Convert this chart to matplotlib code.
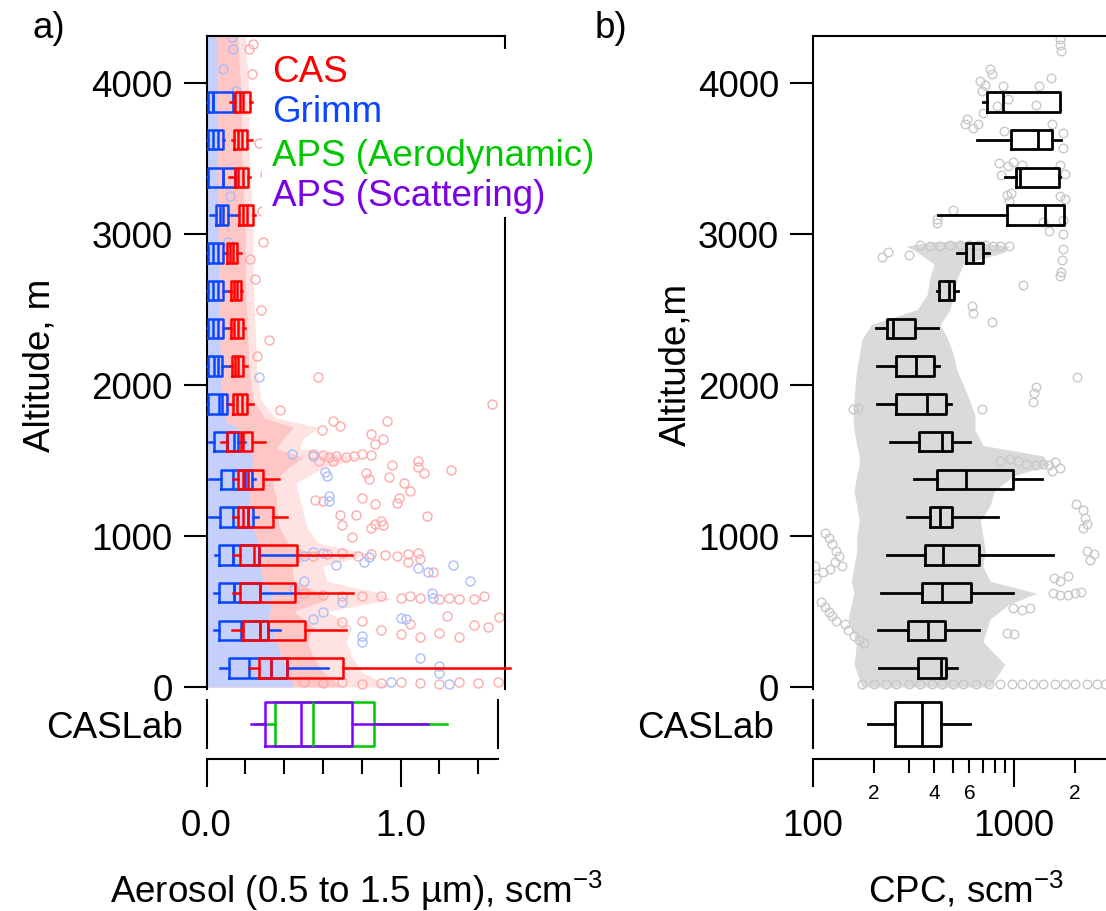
import matplotlib
matplotlib.use('Agg')
import matplotlib.pyplot as plt
from matplotlib.patches import Rectangle

plt.rcParams['font.family'] = ['Liberation Sans', 'DejaVu Sans']
plt.rcParams['mathtext.fontset'] = 'custom'
plt.rcParams['mathtext.rm'] = 'Liberation Sans'
plt.rcParams['mathtext.default'] = 'regular'

W, H = 1106, 912
FS = 26.5

# ---------------------------------------------------------------- data
alt_bins = [125, 375, 625, 875, 1125, 1375, 1625, 1875,
            2125, 2375, 2625, 2875, 3125, 3375, 3625, 3875]

# CAS (red) box stats, scm-3, per altitude bin
cas_wl   = [.221, .130, .138, .138, .135, .135, .073, .118, .121, .118, .118, .104, .164, .118, .130, .121]
cas_q1   = [.271, .190, .173, .173, .164, .164, .107, .138, .130, .125, .125, .104, .169, .147, .143, .147]
cas_med  = [.331, .276, .276, .246, .190, .190, .176, .159, .147, .143, .143, .121, .190, .164, .164, .173]
cas_mean = [.416, .319, .276, .270, .215, .215, .190, .181, .164, .164, .159, .138, .207, .190, .181, .190]
cas_q3   = [.702, .508, .456, .465, .341, .290, .236, .210, .187, .190, .176, .159, .238, .215, .207, .224]
cas_wh   = [1.565, .717, .757, .748, .416, .375, .302, .238, .207, .198, .181, .176, .250, .224, .236, .236]

# Grimm (blue)
grimm_wl   = [.070, .039, .039, .044, .014, .014, .014, .005, .005, .005, .005, .005, .018, .005, .005, .005]
grimm_q1   = [.118, .064, .064, .064, .070, .073, .039, .009, .009, .009, .009, .009, .047, .009, .009, .009]
grimm_med  = [.221, .176, .143, .138, .135, .135, .104, .064, .039, .035, .035, .035, .070, .083, .035, .035]
grimm_mean = [.331, .276, .143, .138, .215, .200, .143, .080, .061, .061, .061, .061, .087, .083, .061, .035]
grimm_q3   = [.416, .319, .276, .270, .238, .233, .164, .104, .078, .087, .087, .087, .112, .147, .087, .138]
grimm_wh   = [.625, .379, .456, .465, .267, .250, .196, .118, .121, .118, .118, .104, .164, .147, .090, .138]

# CASLab: APS aerodynamic (green) and APS scattering (purple)
aps_aero = dict(whislo=.250, q1=.355, med=.551, q3=.863, whishi=1.238)
aps_scat = dict(whislo=.229, q1=.302, med=.487, q3=.752, whishi=1.140)

# CPC box stats, scm-3
cpc_wl  = [213, 210, 218, 234, 294, 319, 242, 207, 209, 206, 412, 522, 419, 905, 652, 698]
cpc_q1  = [334, 296, 350, 361, 380, 412, 337, 258, 259, 234, 423, 575, 927, 1023, 966, 733]
cpc_med = [433, 375, 440, 442, 428, 575, 440, 370, 324, 249, 475, 628, 1426, 1071, 1321, 885]
cpc_q3  = [457, 454, 611, 672, 492, 993, 492, 457, 400, 322, 503, 698, 1774, 1675, 1541, 1694]
cpc_wh  = [522, 672, 986, 1571, 836, 1385, 604, 484, 425, 421, 529, 755, 1774, 1694, 1714, 1700]
cpc_lab = dict(whislo=188, q1=256, med=349, q3=433, whishi=604)

# raw-data clouds: dense core edge and sparse outer edge per altitude
cas_env_alt = [0, 100, 200, 300, 400, 500, 580, 620, 700, 800, 880, 950, 1050, 1150, 1250,
               1350, 1450, 1520, 1580, 1650, 1720, 1780, 1900, 2100, 2400, 2700, 3000, 3300,
               3600, 3900, 4311]
cas_env_x = [.70, .60, .55, .52, .55, .45, .62, .60, .45, .44, .55, .42, .38, .36, .36,
             .34, .42, .50, .36, .40, .45, .30, .24, .22, .21, .20, .20, .19,
             .18, .18, .16]
cas_mid_x = [.95, .80, .75, .72, .75, .62, .95, .90, .62, .60, .85, .58, .52, .50, .48,
             .46, .60, .80, .48, .50, .58, .36, .28, .26, .25, .24, .24, .23,
             .22, .22, .20]
grimm_env_alt = [0, 150, 300, 450, 600, 750, 900, 1050, 1200, 1350, 1500, 1600, 1700, 1760,
                 2000, 2500, 3000, 3500, 4311]
grimm_env_x = [.45, .40, .36, .32, .34, .28, .28, .24, .22, .22, .24, .22, .18, .10,
               .075, .065, .06, .055, .05]

cpc_env_alt = [0, 150, 300, 450, 550, 620, 700, 800, 900, 1000, 1100, 1200, 1300, 1400, 1470,
               1530, 1600, 1700, 1800, 1900, 2000, 2100, 2200, 2300, 2400, 2500, 2600, 2700,
               2800, 2880, 2920, 2950]
cpc_env_lo = [175, 160, 165, 150, 155, 160, 155, 160, 165, 165, 170, 165, 160, 165, 170,
              170, 165, 160, 158, 160, 162, 165, 170, 175, 195, 330, 370, 380,
              400, 330, 290, 400]
cpc_env_hi = [760, 900, 700, 760, 950, 1300, 760, 700, 720, 700, 680, 760, 800, 1000, 1500,
              1400, 700, 640, 640, 600, 560, 520, 500, 470, 430, 480, 500, 520,
              560, 900, 950, 600]

# sparse points outside the dense clouds (value, altitude)
cas_pts_x = [1.47, .575, .379, .929, .65, .69, .594, .85, .87, .91,
             .55, .60, .63, .67, .72, .76, .80, .85, .58, .65,
             .955, 1.09, 1.09, 1.12, 1.26, .82, .84, .94, 1.02, 1.05, .80, .87, .99, .98,
             1.135, .77, .90, .91, .85, .87, .56, .60, .69, .70, .75,
             .55, .62, .70, .78, .85, .92, .98, 1.04, 1.09, 1.04, 1.10, 1.17,
             .50, .60, .70, .80, .90, 1.00, 1.05, 1.10, 1.20, 1.25, 1.30, 1.38, 1.43,
             1.24, 1.51, 1.38, 1.45, .70, .80, .90, 1.00, 1.05, 1.10, 1.20, 1.30,
             .40, .50, .60, .70, .80, .90, 1.00, 1.10, 1.20, 1.30, 1.40, 1.50,
             .22, .24, .235, .285, .29, .224, .26, .27, .30, .25, .28, .32]
cas_pts_alt = [1874, 2050, 1835, 1764, 1760, 1730, 1702, 1675, 1610, 1640,
               1540, 1535, 1525, 1530, 1520, 1530, 1540, 1535, 1500, 1495,
               1470, 1500, 1460, 1420, 1440, 1420, 1380, 1390, 1350, 1300, 1250, 1210, 1250, 1220,
               1134, 1140, 1100, 1075, 1050, 1080, 1240, 1230, 1140, 1070, 995,
               870, 880, 885, 870, 880, 875, 870, 880, 890, 830, 850, 760,
               620, 610, 600, 605, 600, 590, 600, 590, 585, 590, 580, 585, 600,
               470, 465, 410, 400, 430, 440, 380, 350, 420, 330, 360, 330,
               40, 30, 25, 30, 20, 25, 30, 25, 20, 30, 25, 35,
               4225, 4258, 4060, 3152, 2947, 2834, 2192, 3600, 3400, 2700, 2500, 2300]

grimm_pts_x = [.272, 1.27, 1.36, 1.09, 1.14, 1.17, 1.16, 1.00, 1.03, 1.10, 1.20, 1.20, .80, .80,
               .63, .63, .61, .62, .44, .55, 1.25, .95, .50, .55, .60, .67, .81, .84,
               .45, .50, .55, .60, .70, .085, .13, .138, .15, .12, .11]
grimm_pts_alt = [2050, 810, 700, 790, 760, 590, 620, 460, 450, 190, 140, 90, 340, 300,
                 1265, 1230, 1425, 1395, 1540, 1530, 20, 30, 870, 895, 890, 810, 830, 860,
                 650, 700, 450, 500, 560, 4093, 4305, 4225, 3950, 3250, 2950]

cpc_pts_x = [1690, 1700, 1710, 760, 780, 680, 720, 690, 885, 1330, 1530, 1290, 935, 822,
             585, 570, 625, 665, 700, 1550, 1750, 1750, 893, 838, 935, 990, 1090, 860,
             1700, 1790, 1700, 1790, 920, 970, 940, 500, 415, 415,
             1750, 1760, 1760, 1740, 1720, 1690, 1390, 1500, 1110, 780, 625, 620,
             220, 235, 300, 340, 380, 430, 480, 540, 600, 660, 720, 790, 850, 940,
             2060, 1280, 1260, 1240, 690, 158, 167,
             850, 950, 1050, 1150, 1280, 1400, 1500, 1600, 1700, 1550,
             2030, 2200, 2250, 2300, 2200, 2300, 2500, 2400,
             1570, 1700, 1850, 2000, 2150, 1580, 1700, 1850, 990, 1100, 1200, 920, 1000,
             175, 200, 230, 260, 300, 340, 390, 440, 500, 560, 650, 750, 850, 980,
             1100, 1250, 1400, 1600, 1800, 2000, 2300, 2600, 2850,
             115, 120, 125, 130, 135, 128, 140, 122, 112, 102, 104,
             110, 115, 120, 125, 130, 145, 150, 160, 170, 180]
cpc_pts_alt = [4290, 4250, 4210, 4090, 4060, 4010, 3990, 3945, 3980, 3980, 4030, 3855, 3895, 3850,
               3760, 3730, 3700, 3730, 3800, 3730, 3670, 3570, 3680, 3470, 3450, 3480, 3460, 3390,
               3460, 3400, 3250, 3230, 3260, 3270, 3220, 3160, 3100, 3070,
               3090, 3000, 2900, 2830, 2750, 2720, 3080, 3020, 2660, 2420, 2480, 2520,
               2850, 2880, 2860, 2930, 2920, 2920, 2930, 2925, 2930, 2930, 2925, 2920, 2920, 2920,
               2050, 1990, 1950, 1890, 1840, 1840, 1845,
               1500, 1510, 1500, 1480, 1470, 1480, 1470, 1490, 1450, 1430,
               1210, 1170, 1120, 1080, 1050, 900, 880, 840,
               620, 610, 610, 620, 630, 720, 700, 735, 520, 510, 520, 360, 350,
               20, 20, 20, 20, 20, 20, 20, 20, 20, 20, 20, 20, 20, 20,
               20, 20, 20, 20, 20, 20, 20, 20, 20,
               1020, 990, 950, 900, 870, 830, 800, 780, 760, 800, 720,
               560, 530, 500, 470, 440, 420, 380, 340, 310, 290]

y_ticks = [0, 1000, 2000, 3000, 4000]


# ---------------------------------------------------------------- helpers
def add_ax(fig, l, t, r, b):
    return fig.add_axes([l / W, 1 - b / H, (r - l) / W, (b - t) / H])


def make_stats(wl, q1, med, q3, wh, mean=None):
    out = []
    for i in range(len(wl)):
        d = dict(whislo=wl[i], q1=q1[i], med=med[i], q3=q3[i], whishi=wh[i], fliers=[])
        if mean is not None:
            d['mean'] = mean[i]
        out.append(d)
    return out


def draw_boxes(ax, stats, pos, width, color, lw, means=False):
    art = ax.bxp(stats, positions=pos, widths=width, orientation='horizontal',
                 showmeans=means, meanline=True, showcaps=False, showfliers=False,
                 manage_ticks=False,
                 boxprops=dict(color=color, linewidth=lw),
                 whiskerprops=dict(color=color, linewidth=lw),
                 medianprops=dict(color=color, linewidth=lw),
                 meanprops=dict(color=color, linewidth=lw, linestyle='-'))
    for key in art:
        for a in art[key]:
            a.set_clip_on(False)
            a.set_zorder(4)
    return art


def px_to_fig(x, y):
    return x / W, 1 - y / H


fig = plt.figure(figsize=(W / 100, H / 100), dpi=100)

# ================================================================ panel a
ax1 = add_ax(fig, 206.5, 37, 505, 690)
ax1.set_xlim(0, (505 - 206.5) / 194.0)
ax1.set_ylim(-(690 - 688) / 0.151, (688 - 37) / 0.151)

ax1.fill_betweenx(cas_env_alt, 0, cas_mid_x, color='#ffe3e3', lw=0, zorder=1)
ax1.fill_betweenx(cas_env_alt, 0, cas_env_x, color='#ffc6c6', lw=0, zorder=1.1)
ax1.plot(cas_pts_x, cas_pts_alt, 'o', mfc='none', mec='#ffaaaa', ms=6.5, mew=1.0, zorder=1.5)
ax1.fill_betweenx(grimm_env_alt, 0, grimm_env_x, color='#c4d0fb', lw=0, zorder=2)
ax1.plot(grimm_pts_x, grimm_pts_alt, 'o', mfc='none', mec='#a9bdfa', ms=6.5, mew=1.0, zorder=2.1)

draw_boxes(ax1, make_stats(grimm_wl, grimm_q1, grimm_med, grimm_q3, grimm_wh, grimm_mean),
           alt_bins, 130, '#0a45ff', 1.8, means=True)
draw_boxes(ax1, make_stats(cas_wl, cas_q1, cas_med, cas_q3, cas_wh, cas_mean),
           alt_bins, 130, '#ff0000', 1.8, means=True)

for s in ['left', 'top', 'right']:
    ax1.spines[s].set_linewidth(1.5)
ax1.spines['bottom'].set_visible(False)
ax1.set_xticks([])
ax1.set_yticks(y_ticks)
ax1.tick_params(axis='y', direction='out', length=16.5, width=1.5, pad=8, labelsize=FS)

# CASLab strip a
ax2 = add_ax(fig, 206.5, 701, 498, 749)
ax2.set_xlim(0, (498 - 206.5) / 194.0)
ax2.set_ylim(0, 1)
ax2.bxp([dict(aps_aero, fliers=[])], positions=[0.5], widths=0.9, orientation='horizontal',
        showcaps=False, showfliers=False, manage_ticks=False,
        boxprops=dict(color='#00c800', linewidth=1.8),
        whiskerprops=dict(color='#00c800', linewidth=1.8),
        medianprops=dict(color='#00c800', linewidth=1.8))
ax2.bxp([dict(aps_scat, fliers=[])], positions=[0.5], widths=0.9, orientation='horizontal',
        showcaps=False, showfliers=False, manage_ticks=False,
        boxprops=dict(color='#8000ff', linewidth=1.8),
        whiskerprops=dict(color='#8000ff', linewidth=1.8),
        medianprops=dict(color='#8000ff', linewidth=1.8))
ax2.spines['top'].set_visible(False)
for s in ['left', 'right', 'bottom']:
    ax2.spines[s].set_linewidth(1.5)
ax2.spines['bottom'].set_position(('outward', 8))
ax2.set_yticks([0.5], ['CASLab'])
ax2.tick_params(axis='y', length=0, pad=17, labelsize=FS)
ax2.set_xticks([0, 1.0], ['0.0', '1.0'])
ax2.set_xticks([0.2, 0.4, 0.6, 0.8, 1.2, 1.4], minor=True)
ax2.tick_params(axis='x', which='major', direction='out', length=20, width=1.5, pad=15, labelsize=FS)
ax2.tick_params(axis='x', which='minor', direction='out', length=10.5, width=1.5)

# ================================================================ panel b
right_val = 100 * 10 ** ((1106 - 813) / 201.0)
ax3 = add_ax(fig, 813, 37, 1106, 690)
ax3.set_xscale('log')
ax3.set_xlim(100, right_val)
ax3.set_ylim(ax1.get_ylim())

ax3.fill_betweenx(cpc_env_alt, cpc_env_lo, cpc_env_hi, color='#dadada', lw=0, zorder=1)
ax3.plot(cpc_pts_x, cpc_pts_alt, 'o', mfc='none', mec='#c8c8c8', ms=6.2, mew=1.0, zorder=1.5)
draw_boxes(ax3, make_stats(cpc_wl, cpc_q1, cpc_med, cpc_q3, cpc_wh),
           alt_bins, 130, 'black', 2.0)

for s in ['left', 'top']:
    ax3.spines[s].set_linewidth(1.5)
ax3.spines['right'].set_visible(False)
ax3.spines['bottom'].set_visible(False)
ax3.set_xticks([])
ax3.set_xticks([], minor=True)
ax3.set_yticks(y_ticks)
ax3.tick_params(axis='y', direction='out', length=16.5, width=1.5, pad=8, labelsize=FS)

# CASLab strip b
ax4 = add_ax(fig, 813, 701, 1106, 749)
ax4.set_xscale('log')
ax4.set_xlim(100, right_val)
ax4.set_ylim(0, 1)
ax4.bxp([dict(cpc_lab, fliers=[])], positions=[0.5], widths=0.9, orientation='horizontal',
        showcaps=False, showfliers=False, manage_ticks=False,
        boxprops=dict(color='black', linewidth=2.0),
        whiskerprops=dict(color='black', linewidth=2.0),
        medianprops=dict(color='black', linewidth=2.0))
ax4.spines['top'].set_visible(False)
ax4.spines['right'].set_visible(False)
for s in ['left', 'bottom']:
    ax4.spines[s].set_linewidth(1.5)
ax4.spines['bottom'].set_position(('outward', 8))
ax4.set_yticks([0.5], ['CASLab'])
ax4.tick_params(axis='y', length=0, pad=28, labelsize=FS)
minor_vals = [200, 300, 400, 500, 600, 700, 800, 900, 2000]
minor_labs = ['2', '', '4', '', '6', '', '', '', '2']
ax4.set_xticks([100, 1000], ['100', '1000'])
ax4.set_xticks(minor_vals, minor_labs, minor=True)
ax4.tick_params(axis='x', which='major', direction='out', length=20, width=1.5, pad=15, labelsize=FS)
ax4.tick_params(axis='x', which='minor', direction='out', length=10, width=1.5, pad=7, labelsize=15)

# ================================================================ text
# legend of panel a (white box covering the right axis)
fig.add_artist(Rectangle(px_to_fig(262, 218), (605 - 262) / W, (218 - 50) / H,
                         transform=fig.transFigure, fc='white', ec='none', zorder=5))
leg_names = ['CAS', 'Grimm', 'APS (Aerodynamic)', 'APS (Scattering)']
leg_cols = ['#ff0000', '#0a45ff', '#00c800', '#7a00e6']
leg_y = [72, 113, 156, 197]
for name, col, yy in zip(leg_names, leg_cols, leg_y):
    fig.text(*px_to_fig(272, yy), name, color=col, fontsize=FS, ha='left', va='center', zorder=6)

fig.text(*px_to_fig(32, 38), 'a)', fontsize=FS, ha='left', va='baseline')
fig.text(*px_to_fig(595, 38), 'b)', fontsize=FS, ha='left', va='baseline')
fig.text(*px_to_fig(40, 365), 'Altitude, m', rotation=90, fontsize=FS, ha='center', va='center')
fig.text(*px_to_fig(676, 365), 'Altitude,m', rotation=90, fontsize=FS, ha='center', va='center')
fig.text(*px_to_fig(110, 903), 'Aerosol (0.5 to 1.5 µm), scm$^{-3}$', fontsize=FS,
         ha='left', va='baseline')
fig.text(*px_to_fig(868, 903), 'CPC, scm$^{-3}$', fontsize=FS, ha='left', va='baseline')

fig.savefig('out.png', dpi=100)
